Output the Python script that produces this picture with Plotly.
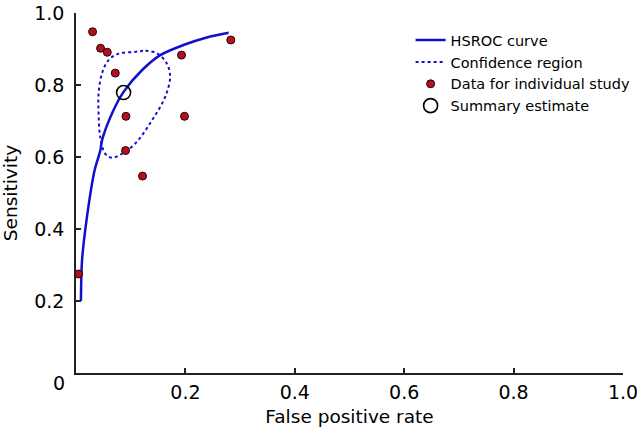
import plotly.graph_objects as go

# HSROC curve
curve_fpr = [0.009, 0.011, 0.020, 0.034, 0.0444, 0.0475, 0.0658, 0.087, 0.1205, 0.154, 0.1965, 0.239, 0.279]
curve_sens = [0.200, 0.312, 0.433, 0.563, 0.618, 0.646, 0.721, 0.781, 0.841, 0.883, 0.911, 0.932, 0.945]

# Confidence region (closed loop)
region_fpr = [0.108, 0.127, 0.148, 0.166, 0.172, 0.163, 0.139, 0.108, 0.084, 0.066, 0.0535, 0.0444,
              0.0413, 0.0413, 0.0475, 0.0595, 0.078, 0.108]
region_sens = [0.892, 0.895, 0.888, 0.860, 0.823, 0.767, 0.702, 0.637, 0.609, 0.598, 0.609, 0.655,
               0.721, 0.776, 0.832, 0.869, 0.887, 0.892]

# Individual studies
study_fpr = [0.0303, 0.0449, 0.0572, 0.0718, 0.0913, 0.0906, 0.1216, 0.1929, 0.1984, 0.283, 0.0047]
study_sens = [0.948, 0.902, 0.891, 0.833, 0.713, 0.618, 0.547, 0.883, 0.713, 0.925, 0.275]

# Summary estimate
summary_fpr = [0.087]
summary_sens = [0.779]

tick_vals = [0.2, 0.4, 0.6, 0.8, 1.0]
tick_text = ["0.2", "0.4", "0.6", "0.8", "1.0"]

FONT = "DejaVu Sans, Liberation Sans, Arial, sans-serif"
BLUE = "#1010CC"

fig = go.Figure()
fig.add_trace(go.Scatter(x=curve_fpr, y=curve_sens, mode="lines", name="HSROC curve",
                         line=dict(color=BLUE, width=2.5, shape="spline", smoothing=0.8),
                         cliponaxis=False))
fig.add_trace(go.Scatter(x=region_fpr, y=region_sens, mode="lines", name="Confidence region",
                         line=dict(color=BLUE, width=2, dash="dot", shape="spline", smoothing=1.0)))
fig.add_trace(go.Scatter(x=study_fpr, y=study_sens, mode="markers", name="Data for individual study",
                         marker=dict(size=8, color="#B01020", line=dict(color="#2a0000", width=1)),
                         cliponaxis=False))
fig.add_trace(go.Scatter(x=summary_fpr, y=summary_sens, mode="markers", name="Summary estimate",
                         marker=dict(size=14, color="rgba(0,0,0,0)", line=dict(color="black", width=1.6)),
                         cliponaxis=False))

axis_common = dict(range=[0, 1], showgrid=False, zeroline=False, showline=True, automargin=False,
                   linecolor="#222", linewidth=1.5, ticks="inside", ticklen=5,
                   tickwidth=1.5, tickcolor="#222", ticklabeloverflow="allow",
                   tickfont=dict(family=FONT, size=19, color="black"))

fig.update_layout(
    width=637, height=434, autosize=False,
    margin=dict(l=76, r=14, t=13, b=61, autoexpand=False),
    plot_bgcolor="white", paper_bgcolor="white",
    font=dict(family=FONT, color="black"),
    xaxis=dict(**axis_common, tickvals=tick_vals, ticktext=tick_text, ticklabelstandoff=1,
               title=dict(text="False positive rate", font=dict(family=FONT, size=18.5), standoff=9)),
    yaxis=dict(**axis_common, tickvals=tick_vals, ticktext=tick_text, ticklabelstandoff=6,
               title=dict(text="Sensitivity", font=dict(family=FONT, size=18.5), standoff=14)),
    legend=dict(x=0.6117, y=0.969, xanchor="left", yanchor="top",
                font=dict(family=FONT, size=14.5, color="black"),
                bgcolor="rgba(0,0,0,0)", itemwidth=30, tracegroupgap=0),
    showlegend=True,
)
fig.add_annotation(x=0, y=0, xref="x", yref="y", text="0", showarrow=False,
                   xshift=-17, yshift=-10, font=dict(family=FONT, size=19, color="black"))

fig.write_html("out.html",
               config={"responsive": False, "displayModeBar": False},
               default_width="637px", default_height="434px",
               post_script="document.body.style.margin='0';document.body.style.overflow='hidden';")
